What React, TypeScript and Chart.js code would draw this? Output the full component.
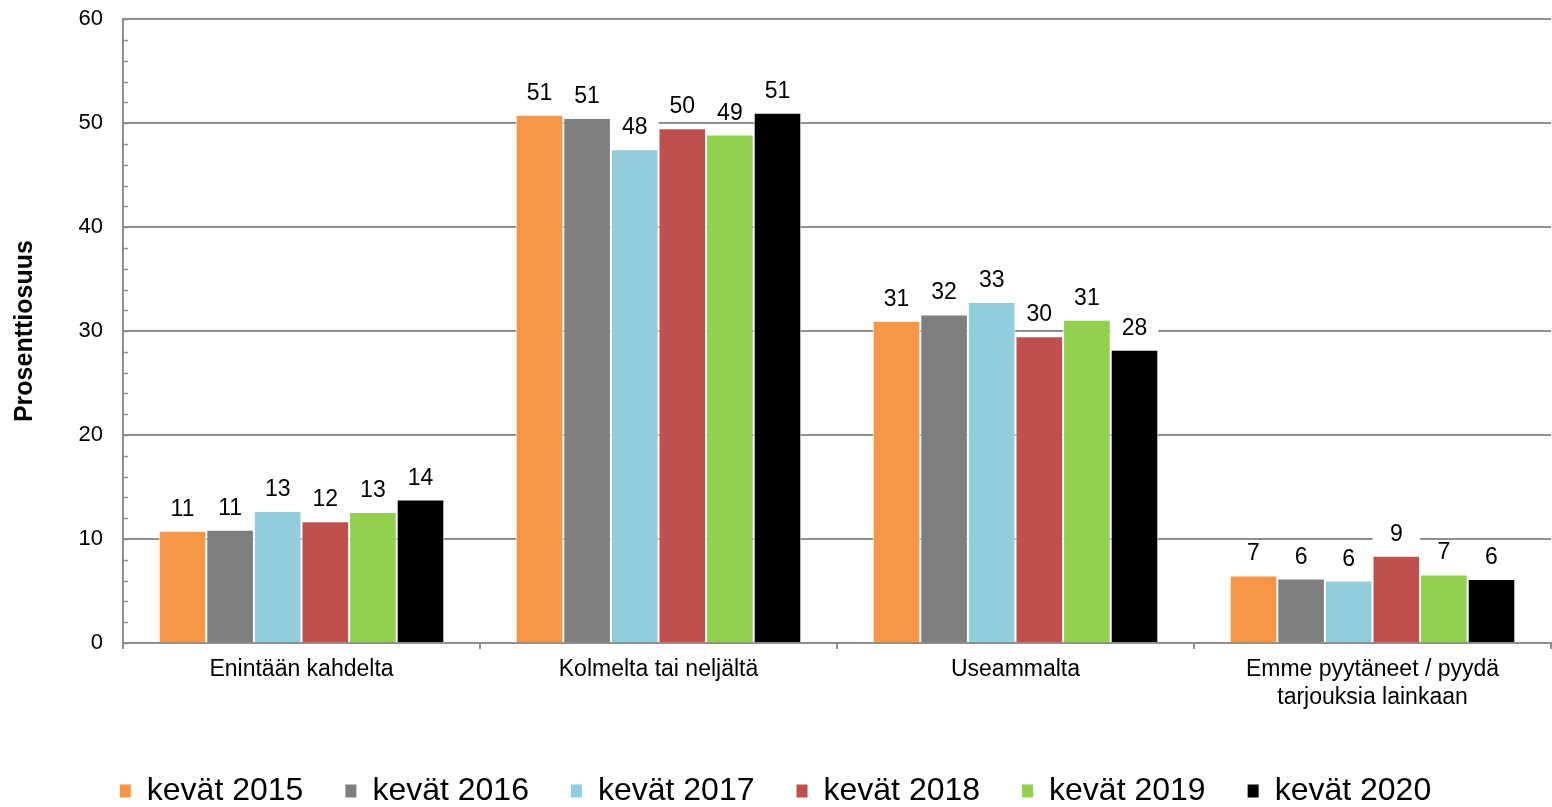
import React, { useEffect, useRef } from 'react';
import { Chart, registerables } from 'chart.js';

Chart.register(...registerables);

const categories: (string | string[])[] = [
  'Enintään kahdelta',
  'Kolmelta tai neljältä',
  'Useammalta',
  ['Emme pyytäneet / pyydä', 'tarjouksia lainkaan'],
];

const seriesNames = ['kevät 2015', 'kevät 2016', 'kevät 2017', 'kevät 2018', 'kevät 2019', 'kevät 2020'];
const seriesColors = ['#F79646', '#7F7F7F', '#92CDDC', '#C0504D', '#92D050', '#000000'];

const values2015 = [10.8, 50.8, 31.0, 6.5];
const values2016 = [10.9, 50.5, 31.6, 6.2];
const values2017 = [12.7, 47.5, 32.8, 6.0];
const values2018 = [11.7, 49.5, 29.5, 8.4];
const values2019 = [12.6, 48.9, 31.1, 6.6];
const values2020 = [13.8, 51.0, 28.2, 6.15];

const labels2015 = ['11', '51', '31', '7'];
const labels2016 = ['11', '51', '32', '6'];
const labels2017 = ['13', '48', '33', '6'];
const labels2018 = ['12', '50', '30', '9'];
const labels2019 = ['13', '49', '31', '7'];
const labels2020 = ['14', '51', '28', '6'];

const seriesValues = [values2015, values2016, values2017, values2018, values2019, values2020];
const seriesLabels = [labels2015, labels2016, labels2017, labels2018, labels2019, labels2020];

const yMin = 0;
const yMax = 60;
const yMajorStep = 10;
const yMinorStep = 2;
const yTitle = 'Prosenttiosuus';

const FONT = '"Liberation Sans", Arial, sans-serif';
const GRID = '#8f8f8f';

const dataLabelPlugin = {
  id: 'dataLabelPlugin',
  afterDatasetsDraw(chart: any) {
    const ctx = chart.ctx;
    ctx.save();
    ctx.font = `23px ${FONT}`;
    ctx.textAlign = 'center';
    ctx.textBaseline = 'alphabetic';
    chart.data.datasets.forEach((ds: any, i: number) => {
      const meta = chart.getDatasetMeta(i);
      meta.data.forEach((bar: any, j: number) => {
        const base = bar.y - 15;
        const w = bar.width;
        ctx.fillStyle = '#ffffff';
        ctx.fillRect(bar.x - w / 2, base - 19, w, 20);
        ctx.fillStyle = '#000000';
        ctx.fillText(seriesLabels[i][j], bar.x, base);
      });
    });
    ctx.restore();
  },
};

const minorTickPlugin = {
  id: 'minorTickPlugin',
  afterDraw(chart: any) {
    const ctx = chart.ctx;
    const y = chart.scales.y;
    const x0 = chart.chartArea.left;
    ctx.save();
    ctx.strokeStyle = GRID;
    ctx.lineWidth = 1.5;
    for (let v = y.min; v <= y.max; v += yMinorStep) {
      const py = Math.round(y.getPixelForValue(v)) + 0.5;
      ctx.beginPath();
      ctx.moveTo(x0, py);
      ctx.lineTo(x0 + 5, py);
      ctx.stroke();
    }
    ctx.restore();
  },
};

export default function App() {
  const canvasRef = useRef<HTMLCanvasElement | null>(null);

  useEffect(() => {
    if (!canvasRef.current) return;
    const chart = new Chart(canvasRef.current, {
      type: 'bar',
      data: {
        labels: categories as any,
        datasets: seriesNames.map((name, i) => ({
          label: name,
          data: seriesValues[i],
          backgroundColor: seriesColors[i],
          borderColor: '#ffffff',
          borderWidth: 1,
          borderSkipped: 'bottom',
          categoryPercentage: 0.8,
          barPercentage: 1.0,
        })),
      },
      options: {
        responsive: false,
        animation: false,
        devicePixelRatio: 1,
        layout: { padding: { top: 5, right: 1, bottom: 0, left: 0 } },
        plugins: {
          tooltip: { enabled: false },
          legend: {
            position: 'bottom',
            labels: {
              font: { family: FONT, size: 32 },
              color: '#000000',
              boxWidth: 11,
              boxHeight: 13,
              padding: 42,
              generateLabels: (c: any) =>
                c.data.datasets.map((ds: any, i: number) => ({
                  text: ds.label,
                  fillStyle: ds.backgroundColor,
                  strokeStyle: ds.backgroundColor,
                  lineWidth: 0,
                  hidden: false,
                  datasetIndex: i,
                })),
            },
          },
        },
        scales: {
          x: {
            grid: {
              display: true,
              drawOnChartArea: false,
              drawTicks: true,
              tickLength: 6,
              color: GRID,
              lineWidth: 2,
              offset: true,
            },
            border: { display: true, color: GRID, width: 2 },
            ticks: {
              font: { family: FONT, size: 23 },
              color: '#000000',
              padding: 7,
              maxRotation: 0,
              autoSkip: false,
            },
            afterFit: (scale: any) => {
              scale.height = 90;
            },
          },
          y: {
            min: yMin,
            max: yMax,
            ticks: {
              stepSize: yMajorStep,
              font: { family: FONT, size: 22 },
              color: '#000000',
              padding: 6,
            },
            grid: {
              color: GRID,
              lineWidth: 2,
              drawTicks: true,
              tickLength: 14,
              tickColor: 'rgba(0,0,0,0)',
            },
            border: { display: true, color: GRID, width: 2 },
            title: {
              display: true,
              text: yTitle,
              font: { family: FONT, size: 25, weight: 'bold' },
              color: '#000000',
              padding: { top: 10, bottom: 0 },
            },
            afterFit: (scale: any) => {
              scale.width = 123;
            },
          },
        },
      },
      plugins: [dataLabelPlugin, minorTickPlugin],
    } as any);
    return () => chart.destroy();
  }, []);

  return (
    <div
      style={{
        position: 'fixed',
        left: 0,
        top: 0,
        width: 1552,
        height: 807,
        overflow: 'hidden',
        background: '#ffffff',
      }}
    >
      <canvas ref={canvasRef} width={1552} height={817} style={{ display: 'block' }} />
    </div>
  );
}
